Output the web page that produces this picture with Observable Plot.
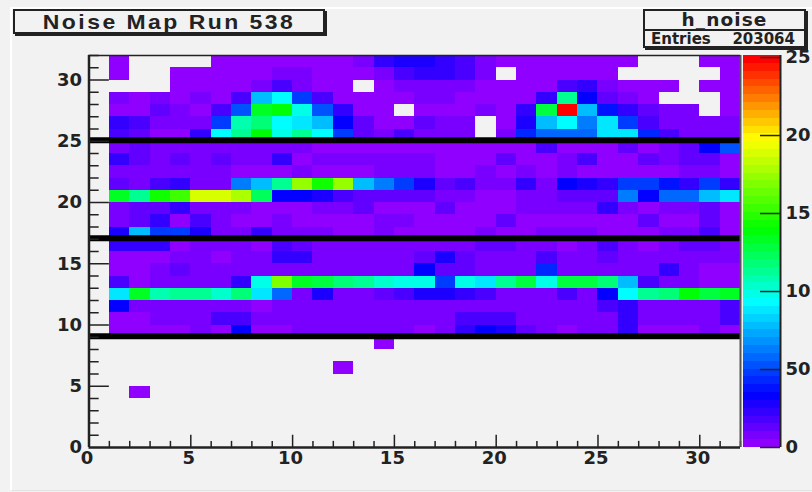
<!DOCTYPE html>
<html><head><meta charset="utf-8">
<script src="https://cdn.jsdelivr.net/npm/d3@7"></script>
<script src="https://cdn.jsdelivr.net/npm/@observablehq/plot@0.6"></script>
<style>
html,body{margin:0;padding:0;background:#f2f2f2;width:812px;height:492px;overflow:hidden}
#wrap{position:relative;width:812px;height:492px;font-family:"DejaVu Sans",sans-serif;font-weight:bold;color:#222}
#wrap>div.lay{position:absolute;left:0;top:0}
#frame{position:absolute;left:10px;top:7px;right:0;bottom:1px;border-left:2px solid #fff;border-top:2px solid #fff;border-bottom:1px solid #e2e2e2}
.box{position:absolute;box-sizing:border-box;border:2px solid #222;background:#f2f2f2;box-shadow:2px 2px 0 #222}
svg text{font-family:"DejaVu Sans",sans-serif;font-weight:bold;fill:#222}
</style></head><body>
<div id="wrap"><div id="frame"></div></div>
<script>
const n = null;
const row31=[2,n,n,n,n,2,2,2,2,2,2,2,7,23,28,28,23,18,7,2,2,2,2,2,2,2,n,n,n,2,2];
const row30=[2,n,n,2,2,2,2,2,7,7,2,2,2,7,18,23,23,18,7,n,2,2,2,2,2,n,n,n,n,n,2];
const row29=[n,n,n,2,2,2,2,7,18,7,2,2,n,2,7,7,7,7,2,2,2,2,18,23,7,2,2,2,n,2,2];
const row28=[7,2,7,2,7,2,18,76,91,46,18,2,2,2,2,7,7,2,2,2,2,23,115,34,12,7,2,n,n,n,2];
const row27=[2,2,12,7,2,18,54,132,137,98,54,23,2,2,n,2,2,2,7,2,23,128,251,76,36,23,12,7,7,n,2];
const row26=[23,18,7,7,7,46,110,120,91,86,76,34,12,2,2,12,7,7,n,2,28,76,91,61,86,50,18,7,7,7,7];
const row25=[18,12,2,2,23,91,114,137,96,112,91,46,12,7,18,7,7,7,n,7,44,56,56,56,88,86,44,18,7,7,7];
const row24=[7,12,7,7,7,7,7,7,7,7,2,2,2,2,2,2,2,2,2,2,2,18,2,2,2,12,2,7,12,34,54];
const row23=[23,12,7,12,7,12,7,7,23,2,7,7,7,7,7,7,2,2,2,12,2,2,7,18,2,2,12,7,12,12,2];
const row22=[7,7,7,7,7,7,2,2,2,7,2,2,2,7,7,7,2,2,7,2,7,2,7,2,2,2,2,2,7,7,2];
const row21=[12,7,18,23,7,7,61,80,114,173,144,173,80,61,50,28,12,18,7,7,23,7,34,28,23,50,50,38,23,46,23];
const row20=[135,114,144,155,188,188,177,122,34,34,28,18,12,12,12,12,7,7,2,2,7,7,12,12,12,61,34,56,56,76,88];
const row19=[7,12,12,23,7,7,7,2,2,2,7,7,12,2,2,2,12,2,2,2,7,7,7,7,23,7,2,7,7,12,2];
const row18=[7,12,23,2,18,7,2,2,7,2,2,2,2,7,7,2,2,2,2,12,2,2,2,2,2,2,12,2,2,12,2];
const row17=[28,76,46,50,28,7,7,23,7,7,7,2,2,7,2,2,2,2,7,2,2,7,7,7,2,2,2,7,7,18,2];
const row16=[23,23,23,2,7,7,7,2,18,12,7,7,7,7,7,7,7,7,12,12,7,7,2,7,18,7,2,7,12,12,7];
const row15=[2,2,2,7,7,2,7,7,23,23,7,7,7,7,7,12,28,12,7,7,7,18,7,7,12,7,7,7,7,7,7];
const row14=[2,2,7,12,7,7,7,7,7,7,7,7,7,7,7,34,12,12,7,7,7,42,7,7,7,7,7,23,7,2,2];
const row13=[18,2,7,7,7,7,23,100,166,135,126,120,112,105,100,100,46,100,90,112,126,100,126,130,120,80,18,7,7,2,2];
const row12=[88,132,110,114,112,102,120,88,56,7,28,7,7,12,18,28,28,23,18,7,7,7,18,7,34,95,114,120,137,130,132];
const row11=[34,7,7,7,7,7,7,2,7,7,7,7,7,7,7,7,7,7,7,7,7,7,7,7,18,23,7,7,7,7,18];
const row10=[2,2,7,7,7,18,18,7,7,7,7,7,7,7,7,7,7,18,18,18,7,7,7,7,7,23,7,7,7,7,18];
const row9=[2,2,2,2,7,2,34,2,2,7,7,7,7,7,7,2,7,23,34,28,12,7,2,7,7,23,2,2,2,7,2];
const denseRows=[row31,row30,row29,row28,row27,row26,row25,row24,row23,row22,row21,row20,row19,row18,row17,row16,row15,row14,row13,row12,row11,row10,row9];
const denseRowY=[31,30,29,28,27,26,25,24,23,22,21,20,19,18,17,16,15,14,13,12,11,10,9];
const sparseX=[14,12,2], sparseY=[8,6,4], sparseV=[2,2,2];
const xLabelTicks=[0,5,10,15,20,25,30];
const yLabelTicks=[0,5,10,15,20,25,30];
const blackLines=[25,17,9];
const colorBarTicks=[0,50,100,150,200,250];
const title="Noise Map Run 538", statName="h_noise", statEntries="203064";
const stopValues=[0,31,91,137,195,246];
const stopColors=["#9000ff","#0000ff","#00ffff","#00ff00","#ffff00","#ff0000"];
const nColors=50, zMax=251.3;

const ramp=d3.scaleLinear().domain(stopValues).range(stopColors).clamp(true);
const binW=zMax/nColors;
const palette=d3.range(nColors).map(k=>ramp(k*binW));
const thresholds=d3.range(1,nColors).map(k=>k*binW);
const colorScale={type:"threshold",domain:thresholds,range:palette};

const cells=[];
denseRows.forEach((r,i)=>r.forEach((v,j)=>{ if(v!==null) cells.push({x:j+1,y:denseRowY[i],v}); }));
sparseX.forEach((x,i)=>cells.push({x,y:sparseY[i],v:sparseV[i]}));

const axisColor="#222";
const unit=d3.range(0,33);
const minorX=unit.filter(d=>d%5), majorX=unit.filter(d=>d%5===0&&d>0&&d<32);
const minorY=unit.filter(d=>d%5), majorY=unit.filter(d=>d%5===0&&d>0&&d<32);
const font={fontFamily:"DejaVu Sans",fontWeight:"bold",fontSize:"18px",background:"transparent"};

const main=Plot.plot({
  width:812,height:492,
  marginLeft:88.5,marginRight:72,marginTop:55,marginBottom:45,
  x:{domain:[0,32]},
  y:{domain:[0,32]},
  color:colorScale,
  style:font,
  marks:[
    Plot.rect(cells,{x1:"x",x2:d=>d.x+1,y1:"y",y2:d=>d.y+1,fill:"v",shapeRendering:"crispEdges"}),
    Plot.ruleY(blackLines,{y:d=>d,x1:0,x2:32,stroke:"#000",strokeWidth:6,dy:-1}),
    Plot.ruleX(minorX,{x:d=>d,y1:0,y2:0.5,stroke:axisColor,strokeWidth:1.5}),
    Plot.ruleX(majorX,{x:d=>d,y1:0,y2:1,stroke:axisColor,strokeWidth:1.5}),
    Plot.ruleY(minorY,{y:d=>d,x1:0,x2:0.5,stroke:axisColor,strokeWidth:1.5}),
    Plot.ruleY(majorY,{y:d=>d,x1:0,x2:1,stroke:axisColor,strokeWidth:1.5}),
    Plot.ruleX([0],{x:d=>d,y1:0,y2:32,stroke:axisColor,strokeWidth:2.5}),
    Plot.ruleX([32],{x:d=>d,y1:0,y2:32,stroke:"#555",strokeWidth:2}),
    Plot.ruleY([0],{y:d=>d,x1:0,x2:32,stroke:axisColor,strokeWidth:2.5}),
    Plot.ruleY([32],{y:d=>d,x1:0,x2:32,stroke:axisColor,strokeWidth:1.5}),
    Plot.axisX({ticks:xLabelTicks,tickSize:0,tickPadding:4,label:null,tickFormat:d=>String(d),dx:-2}),
    Plot.axisY({ticks:yLabelTicks,tickSize:0,tickPadding:7,label:null,tickFormat:d=>String(d)})
  ]
});

const barValues=d3.range(nColors).map(k=>k*binW);
const bar=Plot.plot({
  width:812,height:492,
  marginLeft:743,marginRight:32,marginTop:55,marginBottom:45,
  x:{domain:[0,1],axis:null},
  y:{domain:[0,zMax]},
  color:colorScale,
  style:font,
  marks:[
    Plot.rect(barValues,{x1:0,x2:1,y1:d=>d,y2:d=>d+binW,fill:d=>d+binW/2,shapeRendering:"crispEdges"}),
    Plot.ruleY(colorBarTicks,{y:d=>d,x1:0.46,x2:1,stroke:axisColor,strokeWidth:1.5}),
    Plot.ruleX([1],{x:d=>d,y1:0,y2:zMax,stroke:axisColor,strokeWidth:2}),
    Plot.axisY({anchor:"right",ticks:colorBarTicks,tickSize:0,tickPadding:5,label:null,tickFormat:d=>String(d).slice(0,2)})
  ]
});

const wrap=document.getElementById("wrap");
for(const p of [main,bar]){const d=document.createElement("div");d.className="lay";d.appendChild(p);wrap.appendChild(d);}

function box(l,t,w,h){const b=document.createElement("div");b.className="box";b.style.cssText=`left:${l}px;top:${t}px;width:${w}px;height:${h}px`;wrap.appendChild(b);return b;}
function label(parent,txt,css){const s=document.createElement("div");s.textContent=txt;s.style.cssText="position:absolute;white-space:nowrap;"+css;parent.appendChild(s);}
const tb=box(13,9,312,25);
label(tb,title,"left:0;right:0;top:0;bottom:0;text-align:center;line-height:21px;font-size:20.5px;letter-spacing:2.2px;font-family:'Liberation Sans';transform:scaleX(1.12)");
const sb=box(643,9,163,39);
label(sb,statName,"left:0;right:0;top:-2px;text-align:center;line-height:22px;font-size:18.5px;letter-spacing:1.1px");
label(sb,"","left:0;right:0;top:18px;border-top:2px solid #222");
label(sb,"Entries","left:6px;top:20px;line-height:16px;font-size:15px");
label(sb,statEntries,"right:9px;top:20px;line-height:16px;font-size:15px");
</script>
</body></html>
